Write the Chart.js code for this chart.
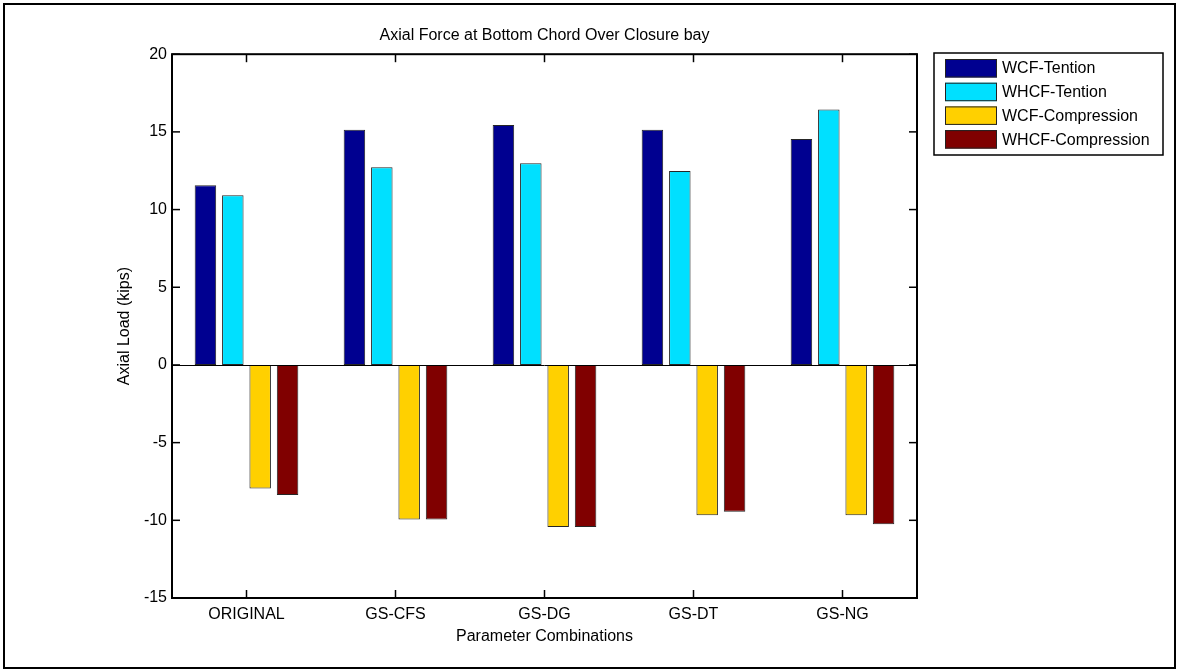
<!DOCTYPE html>
<html>
<head>
<meta charset="utf-8">
<script src="https://cdn.jsdelivr.net/npm/chart.js@4"></script>
<style>
  html, body { margin: 0; padding: 0; background: #fff; }
  #chart { display: block; }
</style>
</head>
<body>
<canvas id="chart" width="1178" height="671"></canvas>
<script>
"use strict";

// Axial force at bottom chord over closure bay, MATLAB-style grouped bars.

const CATEGORIES = ["ORIGINAL", "GS-CFS", "GS-DG", "GS-DT", "GS-NG"];
const WCF_TENSION = [11.56, 15.13, 15.45, 15.13, 14.55];
const WHCF_TENSION = [10.92, 12.72, 12.98, 12.49, 16.44];
const WCF_COMPRESSION = [-7.95, -9.94, -10.43, -9.68, -9.68];
const WHCF_COMPRESSION = [-8.37, -9.94, -10.43, -9.45, -10.26];
const SERIES_LABELS = ["WCF-Tention", "WHCF-Tention", "WCF-Compression", "WHCF-Compression"];
const Y_MIN = -15, Y_MAX = 20, Y_STEP = 5;

const COLORS = ["#000090", "#00e0ff", "#ffd000", "#800000"];
const FONT = '"Liberation Sans", Arial, sans-serif';

Chart.defaults.font.family = FONT;
Chart.defaults.font.size = 16;
Chart.defaults.color = "#000";

const line = (ctx, x1, y1, x2, y2) => {
  ctx.beginPath();
  ctx.moveTo(x1, y1);
  ctx.lineTo(x2, y2);
  ctx.stroke();
};

// White page, axes box with inward ticks, zero baseline, legend, figure frame.
const matlabFrame = {
  id: "matlabFrame",
  beforeDraw(chart) {
    const ctx = chart.ctx;
    ctx.save();
    ctx.fillStyle = "#fff";
    ctx.fillRect(0, 0, chart.width, chart.height);
    ctx.restore();
  },
  afterDatasetsDraw(chart) {
    const { ctx, chartArea: a, scales: { x, y } } = chart;
    const tick = 8;
    ctx.save();
    ctx.strokeStyle = "#000";
    ctx.lineWidth = 1;
    const y0 = Math.round(y.getPixelForValue(0)) + 0.5;
    line(ctx, a.left, y0, a.right, y0);

    ctx.lineWidth = 1.5;
    y.ticks.forEach((t) => {
      const py = y.getPixelForValue(t.value);
      line(ctx, a.left, py, a.left + tick, py);
      line(ctx, a.right, py, a.right - tick, py);
    });
    x.ticks.forEach((t, i) => {
      const px = x.getPixelForTick(i);
      line(ctx, px, a.bottom, px, a.bottom - tick);
      line(ctx, px, a.top, px, a.top + tick);
    });
    ctx.lineWidth = 2;
    ctx.strokeRect(a.left, a.top, a.right - a.left, a.bottom - a.top);
    ctx.restore();
  },
  afterDraw(chart) {
    const ctx = chart.ctx;
    ctx.save();
    // legend
    const lx = 934, ly = 53, lw = 229, lh = 102;
    ctx.fillStyle = "#fff";
    ctx.fillRect(lx, ly, lw, lh);
    ctx.strokeStyle = "#000";
    ctx.lineWidth = 1.5;
    ctx.strokeRect(lx, ly, lw, lh);
    ctx.font = "16px " + FONT;
    ctx.textBaseline = "middle";
    ctx.textAlign = "left";
    chart.data.datasets.forEach((ds, i) => {
      const ry = 59 + i * 23.7;
      ctx.fillStyle = ds.backgroundColor;
      ctx.fillRect(945, ry, 52, 18.5);
      ctx.strokeStyle = "#222";
      ctx.lineWidth = 1;
      ctx.strokeRect(945.5, ry + 0.5, 51, 17.5);
      ctx.fillStyle = "#000";
      ctx.fillText(ds.label, 1002, ry + 10);
    });
    // figure frame
    ctx.strokeStyle = "#000";
    ctx.lineWidth = 2;
    ctx.strokeRect(4, 4, 1171, 664);
    ctx.restore();
  },
};

const seriesData = [WCF_TENSION, WHCF_TENSION, WCF_COMPRESSION, WHCF_COMPRESSION];

new Chart(document.getElementById("chart"), {
  type: "bar",
  data: {
    labels: CATEGORIES,
    datasets: seriesData.map((vals, i) => ({
      label: SERIES_LABELS[i],
      data: vals,
      backgroundColor: COLORS[i],
      borderColor: "#262626",
      borderWidth: 1,
      borderSkipped: false,
      categoryPercentage: 0.735,
      barPercentage: 0.785,
    })),
  },
  options: {
    responsive: false,
    animation: false,
    devicePixelRatio: 1,
    layout: { padding: { left: 115, right: 261, top: 0, bottom: 25 } },
    plugins: {
      legend: { display: false },
      tooltip: { enabled: false },
      title: {
        display: true,
        text: "Axial Force at Bottom Chord Over Closure bay",
        fullSize: false,
        font: { size: 16, weight: "normal" },
        color: "#000",
        padding: { top: 26, bottom: 9 },
      },
    },
    scales: {
      x: {
        grid: { display: false, drawTicks: false },
        border: { display: false },
        ticks: { padding: 7, color: "#000" },
        title: { display: true, text: "Parameter Combinations", padding: 0, color: "#000" },
        afterFit: (s) => { s.height = 48; },
      },
      y: {
        min: Y_MIN,
        max: Y_MAX,
        grid: { display: false, drawTicks: false },
        border: { display: false },
        ticks: { stepSize: Y_STEP, padding: 5, color: "#000" },
        title: { display: true, text: "Axial Load (kips)", padding: 0, color: "#000" },
        afterFit: (s) => { s.width = 57; },
      },
    },
  },
  plugins: [matlabFrame],
});
</script>
</body>
</html>
